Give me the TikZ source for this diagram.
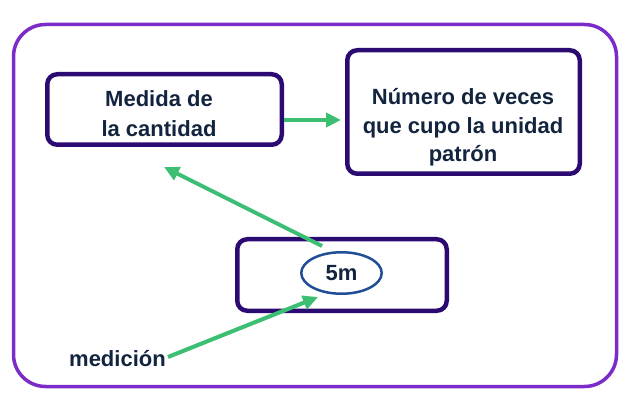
\documentclass[tikz,border=0pt]{standalone}
\usepackage{fontspec}
\setmainfont{Liberation Sans}
\usetikzlibrary{arrows.meta,shapes.geometric}
\definecolor{framepurple}{HTML}{7B2CC8}
\definecolor{boxborder}{HTML}{2B0B72}
\definecolor{ellblue}{HTML}{1F4E96}
\definecolor{txt}{HTML}{13243F}
\definecolor{arrgreen}{HTML}{3CBF73}
\tikzset{
  stepbox/.style={draw=boxborder, line width=4.5pt, rounded corners=10pt, inner sep=0pt},
  valell/.style={draw=ellblue, line width=2.5pt, ellipse, inner sep=0pt,
    font=\fontsize{22}{29}\selectfont\bfseries, text=txt},
  lbl/.style={font=\fontsize{22}{29}\selectfont\bfseries, text=txt, inner sep=0pt, align=center},
  garrow/.style={draw=arrgreen, line width=4pt, -{Triangle[length=15pt,width=14pt]}}
}
\begin{document}
\begin{tikzpicture}[x=1pt,y=-1pt]
\useasboundingbox (0,0) rectangle (630,417);
\draw[framepurple, line width=3.5pt, rounded corners=32pt] (13.5,24.5) rectangle (616.5,386.5);
\node[stepbox, minimum width=234.5pt, minimum height=70.5pt] (medida) at (164.5,109.5) {};
\node[stepbox, minimum width=232.5pt, minimum height=123.5pt] (numero) at (463.5,112) {};
\node[stepbox, minimum width=209.5pt, minimum height=71.5pt] (valor) at (342,275) {};
\node[lbl, anchor=base, font=\fontsize{22}{30}\selectfont\bfseries] (medidatxt) at (159,137) {Medida de\\la cantidad};
\node[lbl, anchor=base, font=\fontsize{22}{28.5}\selectfont\bfseries] (numerotxt) at (463,162) {Número de veces\\que cupo la unidad\\patrón};
\node[valell, minimum width=80.5pt, minimum height=41.5pt] (cinco) at (341.5,273) {5m};
\node[lbl, anchor=base west] (medicion) at (69,366) {medición};
\coordinate (a2s) at (322,246);
\coordinate (a2e) at (164,167);
\coordinate (a3s) at (168,357);
\coordinate (a3e) at (318,297);
\draw[garrow, shorten >=4pt] ([yshift=-10.5pt]medida.east) -- ([yshift=-10.5pt]medida.east -| numero.west);
\draw[garrow] (a2s) -- (a2e);
\draw[garrow] (a3s) -- (a3e);
\end{tikzpicture}
\end{document}
